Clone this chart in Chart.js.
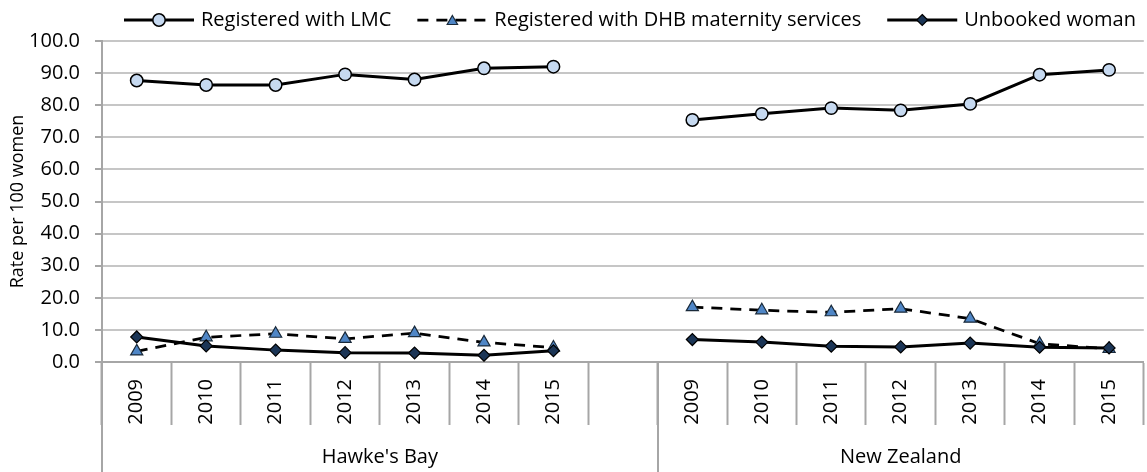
<!DOCTYPE html>
<html>
<head>
<meta charset="utf-8">
<script src="https://cdn.jsdelivr.net/npm/chart.js@4/dist/chart.umd.min.js"></script>
<style>
  html, body { margin: 0; padding: 0; background: #ffffff; overflow: hidden; }
  #wrap { position: relative; width: 1152px; height: 472px; }
</style>
</head>
<body>
<div id="wrap"><canvas id="c"></canvas></div>
<script>
// ---- data ----
const categories = ['2009','2010','2011','2012','2013','2014','2015','',
                    '2009','2010','2011','2012','2013','2014','2015'];
const groupNames = ["Hawke's Bay", 'New Zealand'];
const groupSizes = [8, 7];
const seriesNames = ['Registered with LMC', 'Registered with DHB maternity services', 'Unbooked woman'];
const lmcValues      = [87.7, 86.3, 86.3, 89.6, 88.0, 91.5, 92.0, null, 75.4, 77.3, 79.1, 78.4, 80.4, 89.5, 91.0];
const dhbValues      = [3.3, 7.7, 8.8, 7.2, 9.0, 6.1, 4.5, null, 17.1, 16.1, 15.5, 16.6, 13.5, 5.7, 4.1];
const unbookedValues = [7.8, 5.0, 3.7, 2.9, 2.8, 2.1, 3.5, null, 7.0, 6.2, 4.9, 4.7, 5.9, 4.6, 4.4];
const yMin = 0, yMax = 100, yStep = 10;
const yTitle = 'Rate per 100 women';

Chart.defaults.font.family = "'Open Sans', 'Noto Sans', sans-serif";
Chart.defaults.font.size = 20;
Chart.defaults.color = '#000000';

const AXIS = '#a6a6a6';
const GRID = '#c6c6c6';

const datasets = [
  { label: seriesNames[0], data: lmcValues, borderColor: '#000000', borderWidth: 3,
    pointStyle: 'circle', pointRadius: 6.2, pointBorderWidth: 1.5,
    pointBackgroundColor: '#c6d9f0', pointBorderColor: '#000000', order: 1 },
  { label: seriesNames[1], data: dhbValues, borderColor: '#000000', borderWidth: 2.75, borderDash: [11, 8],
    pointStyle: 'triangle', pointRadius: 7, pointBorderWidth: 1.2,
    pointBackgroundColor: '#4f86c6', pointBorderColor: '#1a2a3a', order: 2 },
  { label: seriesNames[2], data: unbookedValues, borderColor: '#000000', borderWidth: 3,
    pointStyle: 'rectRot', pointRadius: 6, pointBorderWidth: 1.2,
    pointBackgroundColor: '#1b3556', pointBorderColor: '#000000', order: 0 }
];

function drawMarker(ctx, style, x, y, r, fill, stroke, bw) {
  ctx.save();
  ctx.setLineDash([]);
  ctx.fillStyle = fill; ctx.strokeStyle = stroke; ctx.lineWidth = bw;
  ctx.beginPath();
  if (style === 'circle') {
    ctx.arc(x, y, r, 0, Math.PI * 2);
  } else if (style === 'triangle') {
    ctx.moveTo(x, y - r);
    ctx.lineTo(x + r * Math.sin(Math.PI * 2 / 3), y - r * Math.cos(Math.PI * 2 / 3));
    ctx.lineTo(x - r * Math.sin(Math.PI * 2 / 3), y - r * Math.cos(Math.PI * 2 / 3));
    ctx.closePath();
  } else {
    ctx.moveTo(x, y - r); ctx.lineTo(x + r, y); ctx.lineTo(x, y + r); ctx.lineTo(x - r, y);
    ctx.closePath();
  }
  ctx.fill(); ctx.stroke();
  ctx.restore();
}

const extrasPlugin = {
  id: 'extras',
  afterDraw(chart) {
    const ctx = chart.ctx;
    const xs = chart.scales.x;
    const area = chart.chartArea;
    const H = chart.height;
    // long separators for the outer category level
    const half = (xs.getPixelForValue(1) - xs.getPixelForValue(0)) / 2;
    ctx.save();
    ctx.strokeStyle = AXIS; ctx.lineWidth = 2;
    let idx = 0;
    const bounds = [xs.getPixelForValue(0) - half];
    groupSizes.forEach(n => { idx += n; bounds.push(xs.getPixelForValue(idx - 1) + half); });
    bounds.slice(0, bounds.length - 1).forEach(px => {
      ctx.beginPath(); ctx.moveTo(Math.round(px), area.bottom); ctx.lineTo(Math.round(px), H); ctx.stroke();
    });
    // group labels
    ctx.fillStyle = '#000000';
    ctx.font = "20px 'Open Sans', 'Noto Sans', sans-serif";
    ctx.textAlign = 'center'; ctx.textBaseline = 'middle';
    groupNames.forEach((g, i) => {
      ctx.fillText(g, (bounds[i] + bounds[i + 1]) / 2, H - 15);
    });
    // legend
    ctx.textAlign = 'left';
    let lx = 124;
    const ly = 20;
    chart.data.datasets.forEach(ds => {
      ctx.save();
      ctx.strokeStyle = ds.borderColor; ctx.lineWidth = ds.borderWidth;
      ctx.setLineDash(ds.borderDash || []);
      if (ds.borderDash) { ctx.lineDashOffset = 0; }
      ctx.beginPath(); ctx.moveTo(lx, ly); ctx.lineTo(lx + 70, ly); ctx.stroke();
      ctx.restore();
      drawMarker(ctx, ds.pointStyle, lx + 35, ly + (ds.pointStyle === 'triangle' ? 1.5 : 0),
                 ds.pointStyle === 'triangle' ? 6 : (ds.pointStyle === 'circle' ? 6.2 : 5.5),
                 ds.pointBackgroundColor, ds.pointBorderColor, ds.pointBorderWidth);
      const tx = lx + 77;
      ctx.fillStyle = '#000000';
      ctx.fillText(ds.label, tx, ly);
      lx = tx + ctx.measureText(ds.label).width + 26;
    });
    ctx.restore();
  }
};

new Chart(document.getElementById('c'), {
  type: 'line',
  data: { labels: categories, datasets },
  plugins: [extrasPlugin],
  options: {
    responsive: true,
    maintainAspectRatio: false,
    animation: false,
    spanGaps: false,
    layout: { padding: { top: 41, left: 0, right: 0, bottom: 0 } },
    plugins: { legend: { display: false }, tooltip: { enabled: false } },
    elements: { line: { tension: 0 } },
    scales: {
      x: {
        type: 'category',
        offset: true,
        grid: { offset: true, drawOnChartArea: false, drawTicks: true, tickLength: 63,
                tickColor: AXIS, tickWidth: 2 },
        border: { display: true, color: AXIS, width: 2 },
        ticks: { autoSkip: false, minRotation: 90, maxRotation: 90, padding: -46, color: '#000000' },
        afterFit: s => { s.height = 110; }
      },
      y: {
        min: yMin, max: yMax,
        ticks: { stepSize: yStep, padding: 15, color: '#000000', callback: v => Number(v).toFixed(1) },
        grid: { color: GRID, lineWidth: 2, drawTicks: true, tickLength: 7, tickColor: AXIS, tickWidth: 2 },
        border: { display: true, color: AXIS, width: 2 },
        title: { display: true, text: yTitle, color: '#000000', font: { size: 18 }, padding: { top: 7, bottom: 0 } },
        afterFit: s => { s.width = 102; }
      }
    }
  }
});
</script>
</body>
</html>
